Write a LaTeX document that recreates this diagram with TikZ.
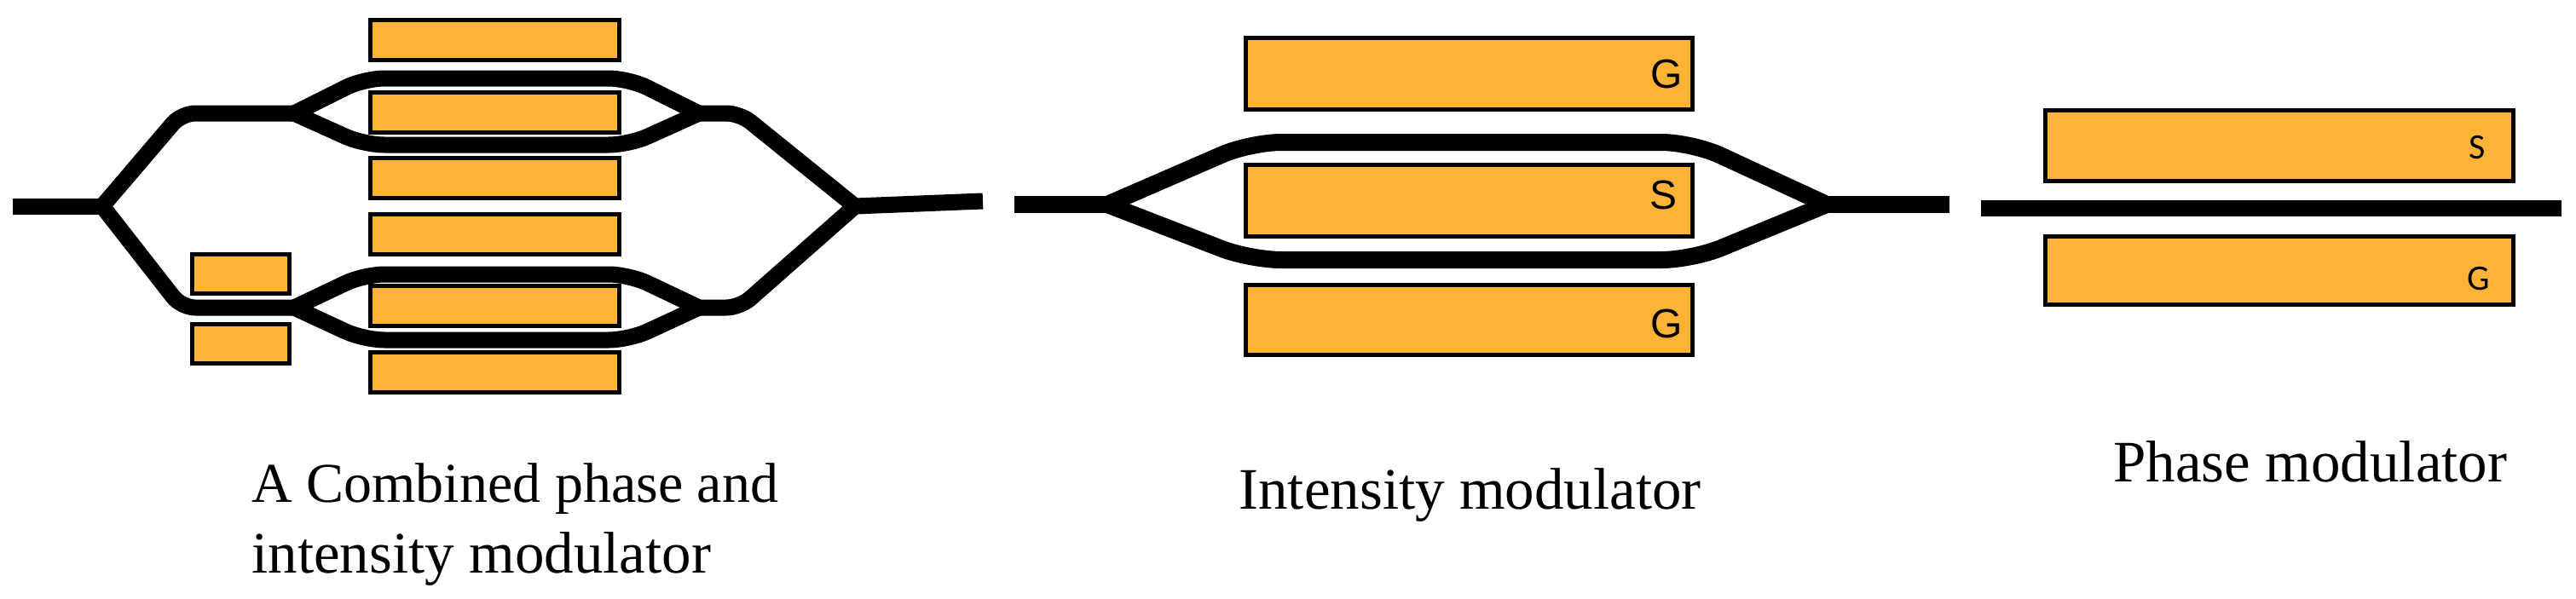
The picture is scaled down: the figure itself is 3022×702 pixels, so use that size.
\documentclass[tikz,border=0pt]{standalone}
\usepackage{fontspec}
\setmainfont{Liberation Serif}
\newfontfamily\padfont{Liberation Sans}
\newfontfamily\smallpadfont{Carlito}
\usetikzlibrary{positioning}
\definecolor{padorange}{RGB}{255,179,54}
\pgfkeys{tikz/electrode/.style={draw=black,fill=padorange,line width=2.5pt,rectangle,inner sep=0pt,minimum width=#1}}
\pgfkeys{tikz/waveguide/.style={draw=black,line width=9.5pt,line join=round,rounded corners=12pt}}
\pgfkeys{tikz/padlabel/.style={font=\padfont\fontsize{24}{24}\selectfont,inner sep=0pt}}
\pgfkeys{tikz/smallpadlabel/.style={font=\smallpadfont\fontsize{21}{21}\selectfont,inner sep=0pt}}
\pgfkeys{tikz/caption/.style={font=\fontsize{34.5}{41.5}\selectfont,align=left,inner sep=0pt}}
\begin{document}
\begin{tikzpicture}[x=0.5pt,y=-0.5pt]
    \useasboundingbox (0,0) rectangle (3022,702);
    % combined modulator
    \foreach \name/\ypos in {a/47,b/131.5,c/208.5,d/275,e/359,f/437} {
        \node[electrode=146pt,minimum height=23.5pt] (pad\name) at (580,\ypos) {};
    }
    \node[electrode=57pt,minimum height=23pt] (padg) at (282,321) {};
    \node[electrode=57pt,minimum height=23pt] (padh) at (282,403) {};
    \coordinate (cin) at (15,242);
    \coordinate (csplit) at (120,242);
    \coordinate (cmerge) at (1003,242);
    \coordinate (cout) at (1153,236);
    \coordinate (ua) at (213,133);
    \coordinate (ub) at (345,133);
    \coordinate (uc) at (820,133);
    \coordinate (ud) at (868,133);
    \coordinate (la) at (213,361);
    \coordinate (lb) at (345,361);
    \coordinate (lc) at (820,361);
    \coordinate (ld) at (868,361);
    \draw[waveguide,rounded corners=0pt] (cin) -- (csplit);
    \draw[waveguide,rounded corners=0pt] (cmerge) -- (cout);
    \draw[waveguide,rounded corners=8pt] (csplit) -- (ua) -- (ub);
    \draw[waveguide,rounded corners=8pt] (csplit) -- (la) -- (lb);
    \draw[waveguide,rounded corners=8pt] (uc) -- (ud) -- (cmerge);
    \draw[waveguide,rounded corners=8pt] (lc) -- (ld) -- (cmerge);
    \draw[waveguide] (ub) -- (427,92) -- (738,92) -- (uc);
    \draw[waveguide] (ub) -- (427,170) -- (738,170) -- (uc);
    \draw[waveguide] (lb) -- (427,322) -- (738,322) -- (lc);
    \draw[waveguide] (lb) -- (427,399) -- (738,399) -- (lc);
    % intensity modulator
    \node[electrode=262pt,minimum height=42pt] (imtop) at (1723.5,86.5) {};
    \node[electrode=262pt,minimum height=42pt] (immid) at (1723.5,235.5) {};
    \node[electrode=262pt,minimum height=41pt] (imbot) at (1723.5,375.5) {};
    \node[padlabel,left=7pt of imtop.east] (imtopl) {G};
    \node[padlabel,left=10pt of immid.east,yshift=3.5pt] (immidl) {S};
    \node[padlabel,left=7pt of imbot.east,yshift=-2pt] (imbotl) {G};
    \coordinate (imin) at (1190,240);
    \coordinate (ima) at (1299,240);
    \coordinate (imb) at (2143,240);
    \coordinate (imout) at (2287,240);
    \draw[waveguide,line width=10pt,rounded corners=0pt] (imin) -- (ima);
    \draw[waveguide,line width=10pt,rounded corners=0pt] (imb) -- (imout);
    \draw[waveguide,line width=10pt,rounded corners=18pt] (ima) -- (1467,167) -- (1985,167) -- (imb);
    \draw[waveguide,line width=10pt,rounded corners=18pt] (ima) -- (1467,305) -- (1985,305) -- (imb);
    % phase modulator
    \node[electrode=274.5pt,minimum height=41.5pt] (pmtop) at (2674,171) {};
    \node[electrode=274.5pt,minimum height=40pt] (pmbot) at (2674,317.5) {};
    \node[smallpadlabel,left=17.5pt of pmtop.east,yshift=-1pt] (pmtopl) {S};
    \node[smallpadlabel,left=15pt of pmbot.east,yshift=-5pt] (pmbotl) {G};
    \coordinate (pmin) at (2324,244);
    \coordinate (pmout) at (3005,244);
    \draw[waveguide] (pmin) -- (pmout);
    % captions
    \node[caption,anchor=base west] (capa) at (295,672) {{\fontsize{33}{41.5}\selectfont A Combined phase and}\\intensity modulator};
    \node[caption,anchor=base west] (capb) at (1453,597) {Intensity modulator};
    \node[caption,anchor=base west] (capc) at (2479,565) {Phase modulator};
\end{tikzpicture}
\end{document}
